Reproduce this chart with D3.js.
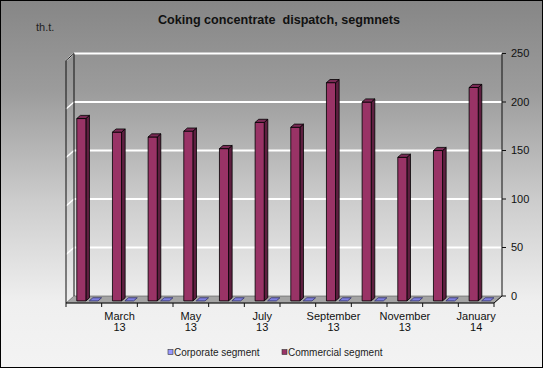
<!DOCTYPE html>
<html>
<head>
<meta charset="utf-8">
<script src="https://cdn.jsdelivr.net/npm/d3@7"></script>
<style>
html,body{margin:0;padding:0;background:#fff;}
svg{display:block;font-family:"Liberation Sans",Arial,sans-serif;}
</style>
</head>
<body>
<svg id="chart" width="543" height="368"></svg>
<script>
// ---- data ----
const categories = ["February 13","March 13","April 13","May 13","June 13","July 13",
                    "August 13","September 13","October 13","November 13","December 13","January 14"];
const axisLabels = ["", "March\n13", "", "May\n13", "", "July\n13", "", "September\n13", "", "November\n13", "", "January\n14"];
const corporate = [0,0,0,0,0,0,0,0,0,0,0,0];
const commercial = [188,174,169,175,157,184,179,225,205,148,155,220];
const yTicks = [0,50,100,150,200,250];
const seriesNames = ["Corporate segment","Commercial segment"];
const seriesColors = ["#9999ff","#993366"];
const titleText = "Coking concentrate  dispatch, segmnets";
const unitText = "th.t.";

// ---- layout ----
const W = 543, H = 368;
const svg = d3.select("#chart");
const DX = -8, DY = 7; // full depth offset (back wall -> front edge)

const x = d3.scaleBand().domain(categories).range([74, 502]).padding(0);
const y = d3.scaleLinear().domain([0, 250]).range([296, 53.5]);
const P = (xb, v, f) => [xb + DX * f, y(v) + DY * f];

const defs = svg.append("defs");
const bg = defs.append("linearGradient").attr("id","bg").attr("x1",0).attr("y1",0).attr("x2",0).attr("y2",1);
bg.append("stop").attr("offset","0%").attr("stop-color","#868686");
bg.append("stop").attr("offset","25%").attr("stop-color","#9c9c9c");
bg.append("stop").attr("offset","55%").attr("stop-color","#cdcdcd");
bg.append("stop").attr("offset","82%").attr("stop-color","#efefef");
bg.append("stop").attr("offset","100%").attr("stop-color","#f3f3f3");

svg.append("rect").attr("x",0).attr("y",0).attr("width",W).attr("height",H).attr("fill","url(#bg)");

// title
svg.append("text").attr("x",279).attr("y",24).attr("text-anchor","middle")
  .attr("font-size",12.6).attr("font-weight","bold").attr("fill","#111")
  .style("white-space","pre").text(titleText);
svg.append("text").attr("x",36).attr("y",31).attr("font-size",11).attr("fill","#222").text(unitText);

const line = d3.line();

// gridlines (back wall + side wall)
const grid = svg.append("g");
yTicks.filter(t => t > 0).forEach(t => {
  grid.append("path").attr("d", line([P(x.range()[0], t, 0), P(x.range()[1], t, 0)]))
    .attr("stroke","#fff").attr("stroke-width",2).attr("fill","none");
  grid.append("path").attr("d", line([P(x.range()[0], t, 1), P(x.range()[0], t, 0)]))
    .attr("stroke","#fff").attr("stroke-width",1.5).attr("fill","none");
});

// floor
const x0 = x.range()[0], x1 = x.range()[1];
svg.append("path").attr("d", line([P(x0,0,0),P(x1,0,0),P(x1,0,1),P(x0,0,1)]) + "Z")
  .attr("fill","#a4a4a4").attr("stroke","#555").attr("stroke-width",0.6);

// wall edges
svg.append("path").attr("d", line([P(x0,0,0),P(x0,250,0)])).attr("stroke","#111").attr("stroke-width",1);
svg.append("path").attr("d", line([P(x0,0,1),P(x0,250,1),P(x0,250,0)])).attr("stroke","#111").attr("stroke-width",1).attr("fill","none");

// bars
const bw = x.bandwidth();
const fFront = 0.7, fBack = 0.25;
function box(g, xl, xr, v, colors) {
  const fr = [P(xl,0,fFront),P(xr,0,fFront),P(xr,v,fFront),P(xl,v,fFront)];
  const side = [P(xr,0,fFront),P(xr,0,fBack),P(xr,v,fBack),P(xr,v,fFront)];
  const top = [P(xl,v,fFront),P(xr,v,fFront),P(xr,v,fBack),P(xl,v,fBack)];
  if (v > 0) {
    g.append("path").attr("d", line(side)+"Z").attr("fill",colors[1]).attr("stroke","#000").attr("stroke-width",0.8).attr("stroke-linejoin","round");
    g.append("path").attr("d", line(fr)+"Z").attr("fill",colors[0]).attr("stroke","#000").attr("stroke-width",0.8).attr("stroke-linejoin","round");
  }
  g.append("path").attr("d", line(top)+"Z").attr("fill",colors[2]).attr("stroke", v>0 ? "#000" : "#333366").attr("stroke-width",0.8).attr("stroke-linejoin","round");
}
const bars = svg.append("g");
categories.forEach((c, i) => {
  const xb = x(c);
  box(bars, xb + bw*0.235, xb + bw*0.49, commercial[i], ["#993366","#5e1f40","#7a2a55"]);
  box(bars, xb + bw*0.585, xb + bw*0.83, corporate[i], ["#9999ff","#5c5cb0","#7f7fe0"]);
});

// front (category) axis
svg.append("path").attr("d", line([P(x0,0,1),P(x1,0,1),P(x1,0,0)])).attr("stroke","#111").attr("stroke-width",1).attr("fill","none");
const xt = svg.append("g");
d3.range(categories.length + 1).forEach(i => {
  const xb = i < categories.length ? x(categories[i]) : x1;
  const p = P(xb, 0, 1);
  xt.append("line").attr("x1",p[0]).attr("x2",p[0]).attr("y1",p[1]).attr("y2",p[1]+4).attr("stroke","#111");
});
categories.forEach((c, i) => {
  if (!axisLabels[i]) return;
  const p = P(x(c) + bw/2, 0, 1);
  const t = xt.append("text").attr("text-anchor","middle").attr("font-size",11).attr("fill","#111");
  axisLabels[i].split("\n").forEach((s, k) => {
    t.append("tspan").attr("x", p[0]).attr("y", p[1] + 17 + k*11).text(s);
  });
});

// value axis (right)
const ya = svg.append("g").attr("transform",`translate(${x1},0)`);
ya.append("line").attr("x1",0).attr("x2",0).attr("y1",y(0)).attr("y2",y(250)).attr("stroke","#111");
yTicks.forEach(t => {
  ya.append("line").attr("x1",0).attr("x2",4).attr("y1",y(t)).attr("y2",y(t)).attr("stroke","#111");
  ya.append("text").attr("x",9).attr("y",y(t)).attr("dy","0.35em").attr("font-size",11).attr("fill","#111").text(t);
});

// legend
const lg = svg.append("g");
const lx = [168, 282];
seriesNames.forEach((n, i) => {
  lg.append("rect").attr("x",lx[i]).attr("y",349.5).attr("width",5).attr("height",5)
    .attr("fill",seriesColors[i]).attr("stroke","#333").attr("stroke-width",0.6);
  lg.append("text").attr("x",lx[i]+6).attr("y",355.5).attr("font-size",10).attr("fill","#222").text(n);
});

// outer border
svg.append("rect").attr("x",0.5).attr("y",0.5).attr("width",W-1).attr("height",H-1)
  .attr("fill","none").attr("stroke","#000");
</script>
</body>
</html>
